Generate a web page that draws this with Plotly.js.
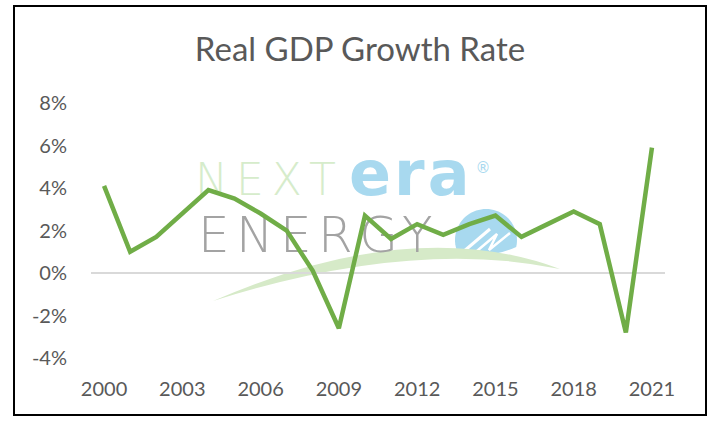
<!DOCTYPE html>
<html>
<head>
<meta charset="utf-8">
<script src="https://cdn.plot.ly/plotly-3.0.1.min.js"></script>
<style>
html,body{margin:0;padding:0;background:#fff;}
#chart{width:712px;height:421px;}
</style>
</head>
<body>
<div id="chart"></div>
<script>
// ---- data ----
var years = [2000,2001,2002,2003,2004,2005,2006,2007,2008,2009,2010,2011,2012,2013,2014,2015,2016,2017,2018,2019,2020,2021];
var gdpGrowth = [4.1,1.0,1.7,2.8,3.9,3.5,2.8,2.0,0.1,-2.6,2.7,1.6,2.3,1.8,2.3,2.7,1.7,2.3,2.9,2.3,-2.8,5.9];
var xTickVals = [2000,2003,2006,2009,2012,2015,2018,2021];
var yTickVals = [-4,-2,0,2,4,6,8];
var yTickText = ['-4%','-2%','0%','2%','4%','6%','8%'];
var chartTitle = 'Real GDP Growth Rate';
var logoWords = ['NEXT', 'era', '®', 'ENERGY'];

// ---- layout geometry (pixels) ----
var W = 712, H = 421;
var PL = 91, PR = 665, PT = 103, PB = 358;
var XR = [1999.5, 2021.5], YR = [-4, 8];
function pxX(x){ return (x-PL)/(PR-PL); }
function pxY(y){ return (PB-y)/(PB-PT); }
function dX(x){ return XR[0] + (x-PL)/(PR-PL)*(XR[1]-XR[0]); }
function dY(y){ return YR[1] - (y-PT)/(PB-PT)*(YR[1]-YR[0]); }
function P(x,y){ return pxX(x)+','+pxY(y); }

function logoTrace(txt, x, y, pos, size, color, weight, spacing){
  var t = spacing ? '<span style="letter-spacing:' + spacing + 'px">' + txt + '</span>' : txt;
  return {x:[dX(x)], y:[dY(y)], mode:'text', text:[t], textposition:pos,
    textfont:{size:size, color:color, family:'DejaVu Sans', weight:weight},
    hoverinfo:'skip', showlegend:false, cliponaxis:false, type:'scatter'};
}

var traces = [
  logoTrace(logoWords[0], 195, 183.5, 'middle right', 44, '#d6eccb', 200, 8),
  logoTrace(logoWords[1], 349, 179, 'middle right', 62, '#a8d9ef', 700, 3),
  logoTrace(logoWords[2], 483, 169, 'middle center', 15, '#a8d9ef', 400, 0),
  logoTrace(logoWords[3], 198, 239, 'middle right', 50, '#a3a3a3', 200, 6.5),
  {x: years, y: gdpGrowth, type:'scatter', mode:'lines',
   line:{color:'#70ad47', width:4.5}, hoverinfo:'skip', showlegend:false, cliponaxis:false}
];

// globe: circle top part cut by a gentle curve
var gcx = 486, gcy = 240, gr = 31;
var a0 = 149, a1 = 373;
var globe = '';
for (var i = 0; i <= 48; i++) {
  var a = (a0 + (a1-a0)*i/48) * Math.PI/180;
  globe += (i === 0 ? 'M ' : ' L ') + P(gcx + gr*Math.cos(a), gcy + gr*Math.sin(a));
}
globe += ' Q ' + P(492, 258) + ' ' + P(gcx + gr*Math.cos(a0*Math.PI/180), gcy + gr*Math.sin(a0*Math.PI/180)) + ' Z';

var shapes = [
  {type:'path', xref:'paper', yref:'paper', layer:'below', fillcolor:'#a8d9ef', line:{width:0}, path: globe},
  {type:'path', xref:'paper', yref:'paper', layer:'below', line:{color:'#ffffff', width:3},
   path:'M '+P(463,252)+' L '+P(490,229)},
  {type:'path', xref:'paper', yref:'paper', layer:'below', line:{color:'#ffffff', width:2.5},
   path:'M '+P(471,256)+' L '+P(497,234)+' L '+P(489,250)+' L '+P(510,233)},
  // logo swoosh
  {type:'path', xref:'paper', yref:'paper', layer:'below', fillcolor:'#d6eac8', line:{width:0},
   path:'M '+P(213,301)+' Q '+P(412,214)+' '+P(560,269)+' Q '+P(412,238)+' '+P(213,301)+' Z'},
  // outer border
  {type:'rect', xref:'paper', yref:'paper', x0:pxX(14), x1:pxX(706), y0:pxY(415), y1:pxY(6),
   line:{color:'#000000', width:2}, fillcolor:'rgba(0,0,0,0)', layer:'above'}
];

var layout = {
  width: W, height: H,
  margin: {l:PL, r:W-PR, t:PT, b:H-PB, pad:0},
  paper_bgcolor:'#ffffff', plot_bgcolor:'rgba(0,0,0,0)',
  title: {text: chartTitle, font:{family:'Lato', size:33, color:'#595959'},
          xref:'container', yref:'container', x:360/W, xanchor:'center', y:1-49/H, yanchor:'middle'},
  xaxis: {range: XR, tickvals: xTickVals, showgrid:false, zeroline:false, showline:false,
          ticks:'', ticklabelstandoff:17, tickfont:{family:'Lato', size:20, color:'#595959'}, fixedrange:true},
  yaxis: {range: YR, tickvals: yTickVals, ticktext: yTickText, showgrid:false, zeroline:true,
          zerolinecolor:'#d9d9d9', zerolinewidth:1.5, showline:false, ticks:'', ticklabelstandoff:23,
          tickfont:{family:'Lato', size:20, color:'#595959'}, fixedrange:true},
  shapes: shapes,
  showlegend:false
};

Plotly.newPlot('chart', traces, layout, {displayModeBar:false, staticPlot:true});
</script>
</body>
</html>
